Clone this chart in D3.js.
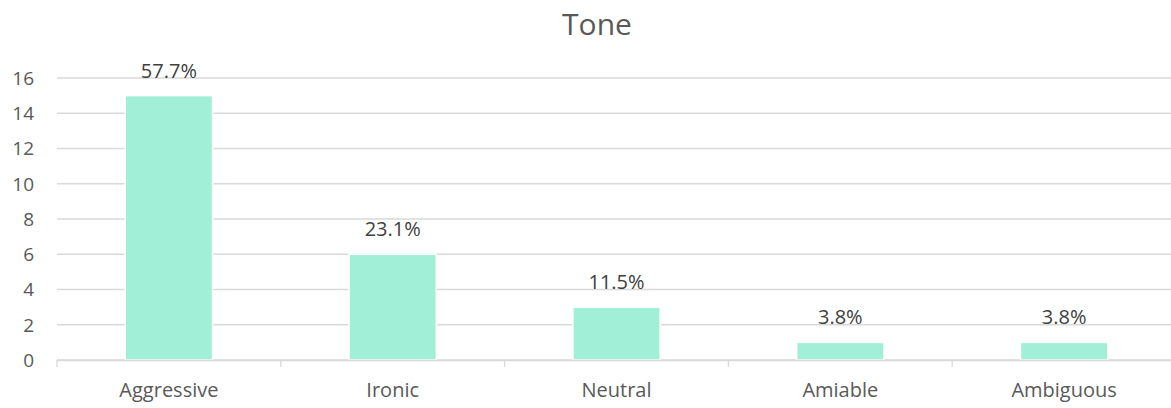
<!DOCTYPE html>
<html>
<head>
<meta charset="utf-8">
<script src="https://cdn.jsdelivr.net/npm/d3@7"></script>
<style>
  html, body { margin: 0; padding: 0; background: #fff; }
  svg { display: block; font-family: "Open Sans", "Noto Sans", sans-serif; }
</style>
</head>
<body>
<svg id="chart" width="1171" height="408"></svg>
<script>
// Tone categories and their counts
const categories = ["Aggressive", "Ironic", "Neutral", "Amiable", "Ambiguous"];
const counts = [15, 6, 3, 1, 1];
const percentLabels = ["57.7%", "23.1%", "11.5%", "3.8%", "3.8%"];
const yTicks = [0, 2, 4, 6, 8, 10, 12, 14, 16];

const width = 1171, height = 408;
const margin = { top: 78, bottom: 48, left: 57 };
const plotRight = 1176; // category bands run slightly past the visible edge

const svg = d3.select("#chart");
const font = "'Open Sans', 'Noto Sans', sans-serif";

const x = d3.scaleBand()
  .domain(categories)
  .range([margin.left, plotRight])
  .paddingInner(0.61)
  .paddingOuter(0.305);

const y = d3.scaleLinear()
  .domain([0, 16])
  .range([height - margin.bottom, margin.top]);

// Horizontal gridlines
svg.append("g")
  .selectAll("line")
  .data(yTicks)
  .join("line")
  .attr("x1", margin.left)
  .attr("x2", width)
  .attr("y1", d => y(d))
  .attr("y2", d => y(d))
  .attr("stroke", "#d9d9d9")
  .attr("stroke-width", 1.3);

// Y axis labels
svg.append("g")
  .selectAll("text")
  .data(yTicks)
  .join("text")
  .attr("x", 34)
  .attr("y", d => y(d))
  .attr("dy", "0.36em")
  .attr("text-anchor", "end")
  .attr("fill", "#595959")
  .attr("font-size", 19)
  .text(d => d);

// Bars
svg.append("g")
  .selectAll("rect")
  .data(categories)
  .join("rect")
  .attr("x", d => x(d))
  .attr("y", (d, i) => y(counts[i]))
  .attr("width", x.bandwidth())
  .attr("height", (d, i) => y(0) - y(counts[i]))
  .attr("fill", "#a2efd8")
  .attr("stroke", "#ffffff")
  .attr("stroke-width", 1.5);

// Category axis with tick marks between categories
const xAxisG = svg.append("g")
  .attr("transform", `translate(0,${y(0)})`)
  .call(d3.axisBottom(x).tickSize(0).tickPadding(23))
  .call(g => g.select(".domain").attr("stroke", "#d9d9d9").attr("stroke-width", 1.3))
  .call(g => g.selectAll("text")
    .attr("font-family", font)
    .attr("font-size", 20)
    .attr("fill", "#595959"));

const step = x.step();
const boundaries = d3.range(categories.length + 1).map(i => margin.left + i * step);
xAxisG.append("g")
  .selectAll("line")
  .data(boundaries)
  .join("line")
  .attr("x1", d => d)
  .attr("x2", d => d)
  .attr("y1", 0)
  .attr("y2", 7)
  .attr("stroke", "#d9d9d9")
  .attr("stroke-width", 1.3);

// Percentage labels above bars
svg.append("g")
  .selectAll("text")
  .data(categories)
  .join("text")
  .attr("x", d => x(d) + x.bandwidth() / 2)
  .attr("y", (d, i) => y(counts[i]) - 18)
  .attr("text-anchor", "middle")
  .attr("fill", "#404040")
  .attr("font-size", 20)
  .text((d, i) => percentLabels[i]);

// Title
svg.append("text")
  .attr("x", 597)
  .attr("y", 35)
  .attr("text-anchor", "middle")
  .attr("fill", "#595959")
  .attr("font-size", 30)
  .text("Tone");
</script>
</body>
</html>
